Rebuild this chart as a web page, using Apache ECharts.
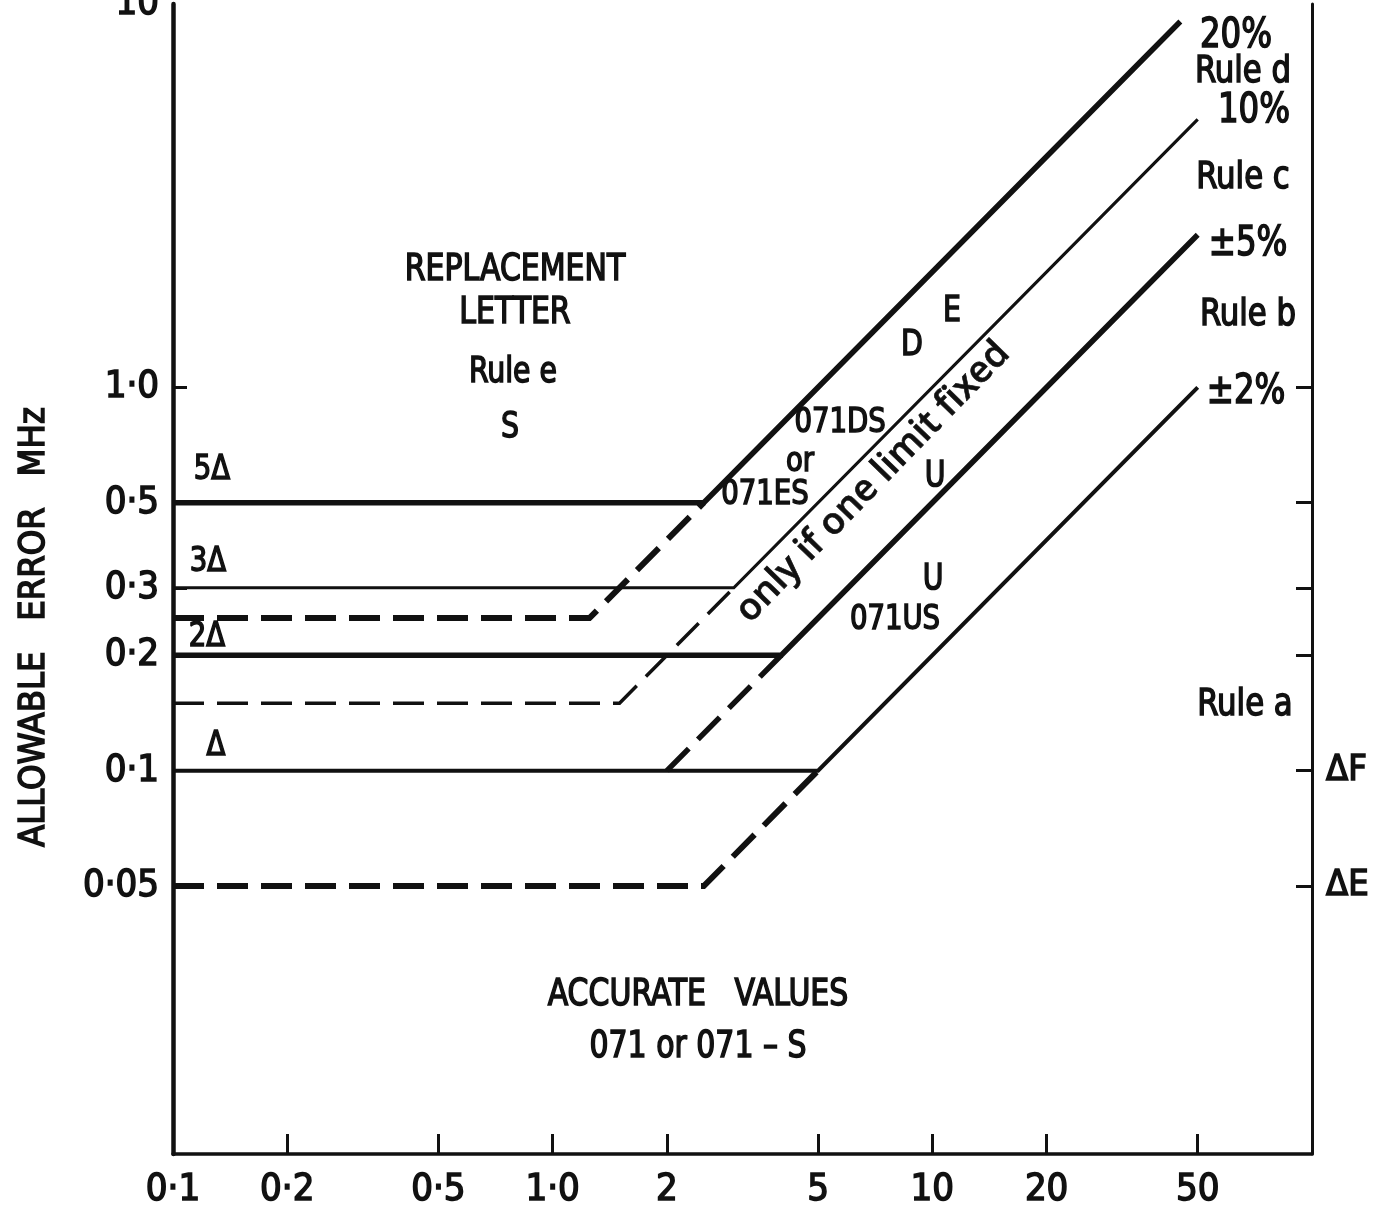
<!DOCTYPE html>
<html><head><meta charset="utf-8">
<script src="https://cdn.jsdelivr.net/npm/echarts@6/dist/echarts.min.js"></script>
<style>html,body{margin:0;padding:0;background:#fff}#c{width:1381px;height:1211px}</style>
</head><body><div id="c"></div>
<script>
// ---- data ----
const xTickValues = [0.1, 0.2, 0.5, 1, 2, 5, 10, 20, 50];
const xTickLabels = ['0·1', '0·2', '0·5', '1·0', '2', '5', '10', '20', '50'];
const yTickValues = [0.05, 0.1, 0.2, 0.3, 0.5, 1, 10];
const yTickLabels = ['0·05', '0·1', '0·2', '0·3', '0·5', '1·0', '10'];
const rightTickValues = [0.05, 0.1, 0.2, 0.3, 0.5, 1];
const rightLabelValues = [0.05, 0.1];
const rightLabelTexts = ['ΔE', 'ΔF'];

// solid limits: horizontal Δ-multiple then percentage rule
const line5D_20pct = [[0.1, 0.5], [2.5, 0.5], [45, 9]];
const line3D_10pct = [[0.1, 0.3], [3, 0.3], [50, 5]];
const line2D_5pct  = [[0.1, 0.2], [4, 0.2], [50, 2.5]];
const line1D_2pct  = [[0.1, 0.1], [5, 0.1], [50, 1.0]];
// dashed limits
const dash025 = [[0.1, 0.25], [1.25, 0.25], [2.5, 0.5]];
const dash015 = [[0.1, 0.15], [1.5, 0.15], [3, 0.3]];
const dash5pct = [[2, 0.1], [4, 0.2]];
const dash005 = [[0.1, 0.05], [2.5, 0.05], [5, 0.1]];

const FONT = "'DejaVu Sans Condensed','Liberation Sans Narrow','Roboto Condensed','Liberation Sans',sans-serif";
const INK = '#111';
const BORDER = 1.5;

function pick(vals, labels) {
  return function (v) {
    for (let i = 0; i < vals.length; i++) if (Math.abs(vals[i] - v) < 1e-9 * Math.max(1, v)) return labels[i];
    return '';
  };
}

function mk(name, data, width, dashed) {
  return {
    name, type: 'line', data, symbol: 'none', silent: true, animation: false,
    lineStyle: { color: INK, width, type: dashed ? [31, 13] : 'solid', cap: 'butt', join: 'miter' },
    z: 3
  };
}

const texts = [
  ['REPLACEMENT', 515, 270, 37],
  ['LETTER', 515, 313, 37],
  ['Rule e', 513, 373, 35],
  ['S', 510, 428, 35],
  ['5Δ', 212, 470, 34],
  ['3Δ', 208, 562, 34],
  ['2Δ', 207, 637, 34],
  ['Δ', 216, 746, 34],
  ['E', 952, 312, 35],
  ['D', 912, 346, 35],
  ['071DS', 840, 423, 34],
  ['or', 800, 462, 34],
  ['071ES', 765, 495, 34],
  ['U', 935, 477, 35],
  ['U', 933, 580, 35],
  ['071US', 895, 620, 34],
  ['20%', 1236, 37, 40],
  ['Rule d', 1243, 72, 38],
  ['10%', 1254, 112, 40],
  ['Rule c', 1243, 178, 38],
  ['±5%', 1248, 245, 40],
  ['Rule b', 1248, 315, 38],
  ['±2%', 1246, 393, 40],
  ['Rule a', 1245, 705, 38],
  ['ACCURATE   VALUES', 698, 995, 37],
  ['071 or 071 – S', 698, 1047, 37]
];

const graphics = texts.map(t => ({
  type: 'text', x: t[1], y: t[2], scaleX: 0.9, silent: true,
  style: { text: t[0], fill: INK, stroke: INK, lineWidth: BORDER, fontFamily: FONT, fontSize: t[3], textAlign: 'center', textVerticalAlign: 'middle' }
}));
graphics.push({
  type: 'text', x: 873, y: 482, rotation: 0.80, silent: true,
  style: { text: 'only if one limit fixed', fill: INK, stroke: INK, lineWidth: 0.6, fontFamily: "'Open Sans','DejaVu Sans',sans-serif", fontWeight: 600, fontSize: 37, textAlign: 'center', textVerticalAlign: 'middle' }
});

const labelStyle = { color: INK, fontFamily: FONT, textBorderColor: INK, textBorderWidth: BORDER };

const chart = echarts.init(document.getElementById('c'), null, { renderer: 'canvas' });
chart.setOption({
  backgroundColor: '#fff',
  animation: false,
  grid: { left: 173, right: 69, top: 4, bottom: 57, containLabel: false, outerBoundsMode: 'none' },
  xAxis: {
    type: 'log', logBase: 10, min: 0.1, max: 100,
    axisLine: { lineStyle: { color: INK, width: 3.5 } },
    axisTick: { inside: true, length: 20, lineStyle: { color: INK, width: 3 }, customValues: xTickValues },
    axisLabel: Object.assign({ customValues: xTickValues, formatter: pick(xTickValues, xTickLabels), fontSize: 38, margin: 17 }, labelStyle),
    splitLine: { show: false }, minorTick: { show: false }, minorSplitLine: { show: false }
  },
  yAxis: [{
    type: 'log', logBase: 10, min: 0.01, max: 10, position: 'left',
    name: 'ALLOWABLE   ERROR   MHz', nameLocation: 'middle', nameRotate: 90, nameGap: 120,
    nameTextStyle: { color: INK, fontFamily: FONT, fontSize: 36, textBorderColor: INK, textBorderWidth: BORDER, padding: [0, 96, 0, 0] },
    axisLine: { lineStyle: { color: INK, width: 4.5 } },
    axisTick: { inside: true, length: 14, lineStyle: { color: INK, width: 3 }, customValues: [0.05, 0.1, 0.2, 0.3, 0.5, 1] },
    axisLabel: Object.assign({ customValues: yTickValues, formatter: pick(yTickValues, yTickLabels), fontSize: 38, margin: 14 }, labelStyle),
    splitLine: { show: false }, minorTick: { show: false }, minorSplitLine: { show: false }
  }, {
    type: 'log', logBase: 10, min: 0.01, max: 10, position: 'right',
    axisLine: { lineStyle: { color: INK, width: 3 } },
    axisTick: { inside: true, length: 16, lineStyle: { color: INK, width: 3 }, customValues: rightTickValues },
    axisLabel: Object.assign({ customValues: rightLabelValues, formatter: pick(rightLabelValues, rightLabelTexts), fontSize: 36, margin: 14 }, labelStyle),
    splitLine: { show: false }, minorTick: { show: false }, minorSplitLine: { show: false }
  }],
  series: [
    mk('5Δ / 20%', line5D_20pct, 5.5),
    mk('3Δ / 10%', line3D_10pct, 3.2),
    mk('2Δ / 5%', line2D_5pct, 5.5),
    mk('Δ / 2%', line1D_2pct, 4),
    mk('2.5Δ dashed', dash025, 6, true),
    mk('1.5Δ dashed', dash015, 3.5, true),
    mk('5% dashed', dash5pct, 5.5, true),
    mk('Δ/2 dashed', dash005, 6, true)
  ],
  graphic: graphics
});
</script>
</body></html>
